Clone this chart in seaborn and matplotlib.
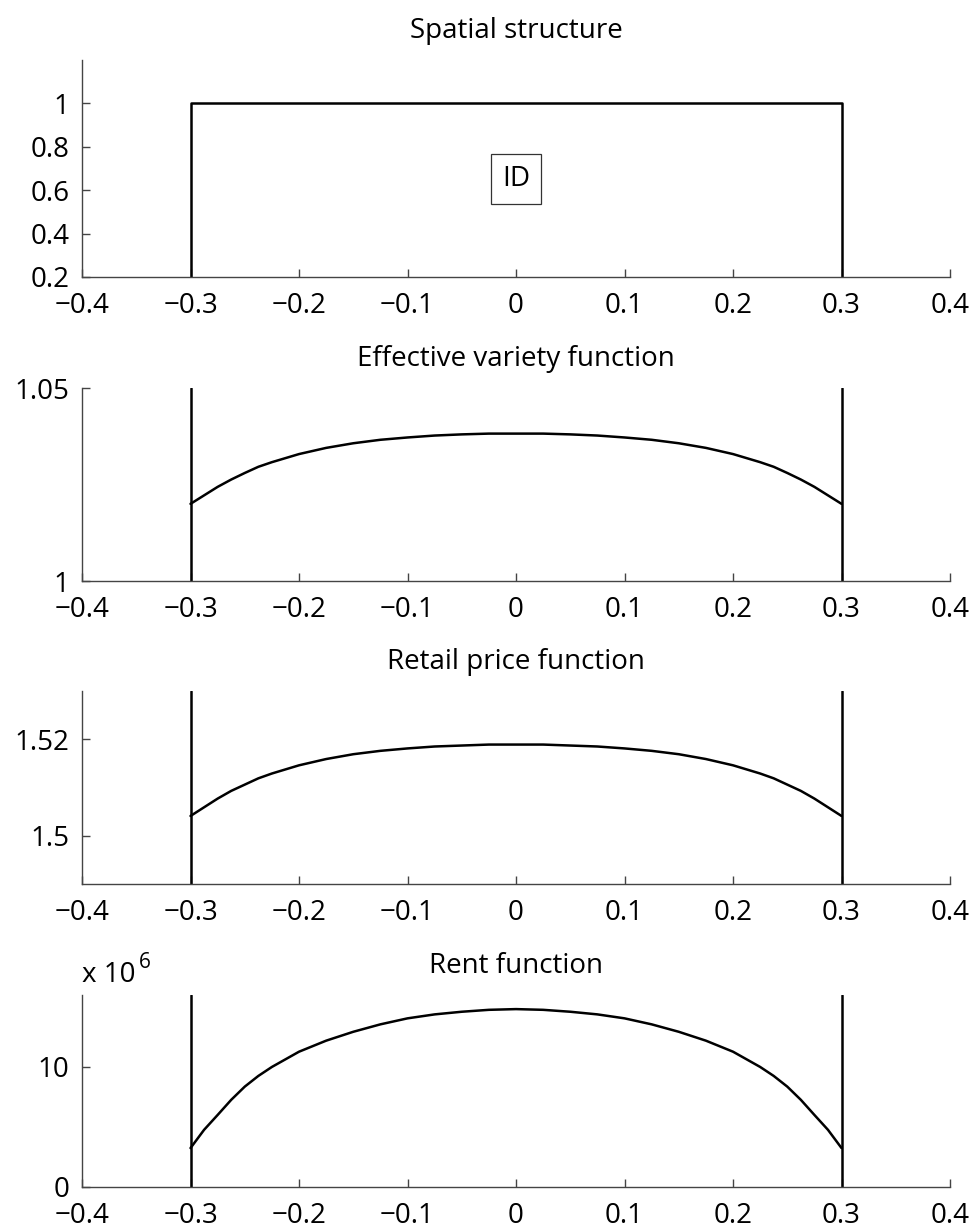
import numpy as np
import pandas as pd
import matplotlib
matplotlib.use("Agg")
import matplotlib.pyplot as plt
from matplotlib.ticker import FuncFormatter
import seaborn as sns

# ---- data ----
X_TICKS = [-0.4, -0.3, -0.2, -0.1, 0.0, 0.1, 0.2, 0.3, 0.4]
X_TICK_LABELS = ["\u22120.4", "\u22120.3", "\u22120.2", "\u22120.1", "0", "0.1", "0.2", "0.3", "0.4"]
CITY_EDGES = [-0.3, 0.3]

# spatial structure (step: 0 outside, 1 inside the city)
SPATIAL_X = [-0.3, -0.3, 0.3, 0.3]
SPATIAL_Y = [0.0, 1.0, 1.0, 0.0]

# location grid for the three functions
LOC = [-0.3, -0.2875, -0.275, -0.2625, -0.25, -0.2375, -0.225, -0.2, -0.175, -0.15, -0.125, -0.1,
       -0.075, -0.05, -0.025, 0.0,
       0.025, 0.05, 0.075, 0.1, 0.125, 0.15, 0.175, 0.2, 0.225, 0.2375, 0.25, 0.2625, 0.275, 0.2875, 0.3]

VARIETY = [1.0200, 1.0222, 1.0244, 1.0263, 1.0280, 1.0296, 1.0308, 1.0329, 1.0345, 1.0357, 1.0366, 1.0372,
           1.0377, 1.0380, 1.0382, 1.0382,
           1.0382, 1.0380, 1.0377, 1.0372, 1.0366, 1.0357, 1.0345, 1.0329, 1.0308, 1.0296, 1.0280, 1.0263,
           1.0244, 1.0222, 1.0200]

PRICE = [1.5041, 1.5059, 1.5077, 1.5093, 1.5106, 1.5119, 1.5129, 1.5146, 1.5159, 1.5169, 1.5176, 1.5181,
         1.5185, 1.5187, 1.5189, 1.5189,
         1.5189, 1.5187, 1.5185, 1.5181, 1.5176, 1.5169, 1.5159, 1.5146, 1.5129, 1.5119, 1.5106, 1.5093,
         1.5077, 1.5059, 1.5041]

RENT = [3.24e6, 4.76e6, 6.00e6, 7.26e6, 8.36e6, 9.25e6, 10.00e6, 11.27e6, 12.19e6, 12.93e6, 13.55e6, 14.05e6,
        14.38e6, 14.60e6, 14.76e6, 14.82e6,
        14.76e6, 14.60e6, 14.38e6, 14.05e6, 13.55e6, 12.93e6, 12.19e6, 11.27e6, 10.00e6, 9.25e6, 8.36e6, 7.26e6,
        6.00e6, 4.76e6, 3.24e6]

sns.set_style("ticks")
plt.rcParams["font.family"] = ["Open Sans", "DejaVu Sans"]
plt.rcParams["axes.unicode_minus"] = True
plt.rcParams["text.color"] = "black"

FS = 20
fig = plt.figure(figsize=(9.74, 12.30), dpi=100)

left, width = 0.0842, 0.8912
boxes = [
    (0.7748, 0.1764),
    (0.5276, 0.1569),
    (0.2813, 0.1569),
    (0.0350, 0.1561),
]
axes = [fig.add_axes([left, b, width, h]) for b, h in boxes]

spine_col = "#444444"
line_kw = dict(color="black", linewidth=1.8)

for ax in axes:
    for s in ["top", "right"]:
        ax.spines[s].set_visible(False)
    for s in ["left", "bottom"]:
        ax.spines[s].set_color(spine_col)
        ax.spines[s].set_linewidth(1.0)
    ax.set_xlim(-0.4, 0.4)
    ax.set_xticks(X_TICKS)
    ax.set_xticklabels(X_TICK_LABELS)
    ax.tick_params(direction="in", length=6, width=1.0, color=spine_col,
                   labelsize=FS, labelcolor="black")
    ax.tick_params(axis="x", pad=11)
    ax.tick_params(axis="y", pad=9)

# 1. spatial structure
ax = axes[0]
sns.lineplot(x=SPATIAL_X, y=SPATIAL_Y, sort=False, estimator=None, ax=ax, **line_kw)
ax.set_ylim(0.2, 1.2)
ax.set_yticks([0.2, 0.4, 0.6, 0.8, 1.0])
ax.set_yticklabels(["0.2", "0.4", "0.6", "0.8", "1"])
ax.text(0.0, 0.653, "ID", ha="center", va="center", fontsize=FS,
        bbox=dict(boxstyle="square,pad=0.4", fc="white", ec="#333333", lw=0.9))
ax.set_title("Spatial structure", fontsize=FS, pad=16, color="black")

# 2. effective variety
df_var = pd.DataFrame({"loc": LOC, "val": VARIETY})
ax = axes[1]
sns.lineplot(data=df_var, x="loc", y="val", ax=ax, **line_kw)
for e in CITY_EDGES:
    ax.axvline(e, **line_kw)
ax.set_ylim(1.0, 1.05)
ax.set_yticks([1.0, 1.05])
ax.set_yticklabels(["1", "1.05"])
ax.set_title("Effective variety function", fontsize=FS, pad=16, color="black")

# 3. retail price
df_price = pd.DataFrame({"loc": LOC, "val": PRICE})
ax = axes[2]
sns.lineplot(data=df_price, x="loc", y="val", ax=ax, **line_kw)
for e in CITY_EDGES:
    ax.axvline(e, **line_kw)
ax.set_ylim(1.49, 1.53)
ax.set_yticks([1.5, 1.52])
ax.set_yticklabels(["1.5", "1.52"])
ax.set_title("Retail price function", fontsize=FS, pad=16, color="black")

# 4. rent
df_rent = pd.DataFrame({"loc": LOC, "val": RENT})
ax = axes[3]
sns.lineplot(data=df_rent, x="loc", y="val", ax=ax, **line_kw)
for e in CITY_EDGES:
    ax.axvline(e, **line_kw)
ax.set_ylim(0, 16e6)
ax.set_yticks([0, 10e6])
ax.yaxis.set_major_formatter(FuncFormatter(lambda v, p: f"{v / 1e6:g}"))
ax.set_title("Rent function", fontsize=FS, pad=16, color="black")
ax.text(0.0, 1.065, "x 10", transform=ax.transAxes, fontsize=FS, ha="left", va="baseline")
ax.text(0.066, 1.14, "6", transform=ax.transAxes, fontsize=15, ha="left", va="baseline")

for ax in axes:
    ax.set_xlabel("")
    ax.set_ylabel("")

fig.savefig("out.png", dpi=100)
